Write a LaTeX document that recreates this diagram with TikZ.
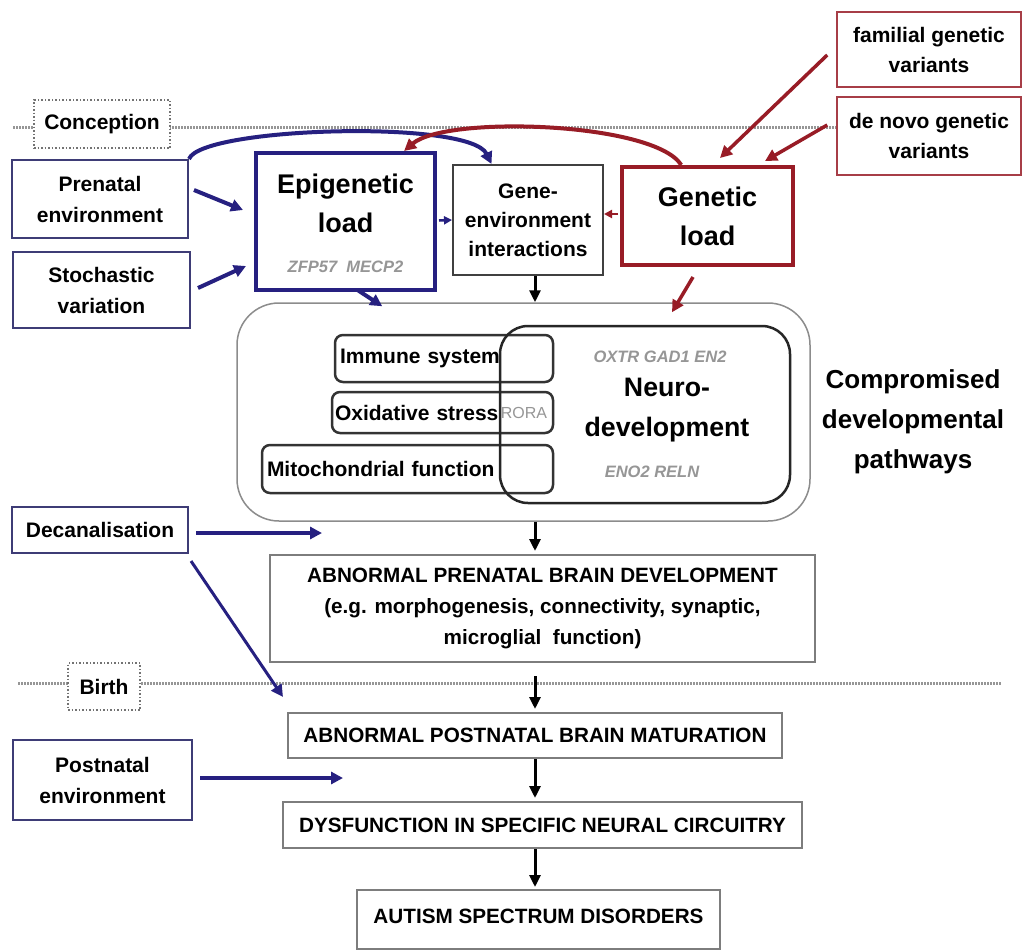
\documentclass[tikz,border=0pt]{standalone}
\usepackage{fontspec}
\setmainfont{Liberation Sans}
\usetikzlibrary{arrows.meta,calc}

\definecolor{navy}{RGB}{38,32,128}
\definecolor{slateblue}{RGB}{62,60,118}
\definecolor{darkred}{RGB}{152,28,38}
\definecolor{boxgray}{RGB}{125,125,125}
\definecolor{genegray}{RGB}{150,150,150}
\definecolor{dotgray}{RGB}{150,150,150}

\newcommand\szside{\fontsize{21}{31}\selectfont\bfseries}
\newcommand\szbig{\fontsize{27}{39}\selectfont\bfseries}
\newcommand\szflow{\fontsize{20.7}{31}\selectfont\bfseries}
\newcommand\szgene{\fontsize{16.5}{20}\selectfont\bfseries\itshape}

\begin{document}
\begin{tikzpicture}[x=1pt,y=-1pt,
  wh/.style 2 args={minimum width=#1, minimum height=#2},
  sidebox/.style={draw=slateblue, line width=2, fill=white, align=center, inner sep=0, font=\szside},
  epibox/.style={draw=navy, line width=4, fill=white, inner sep=0},
  genbox/.style={draw=darkred, line width=4, fill=white, inner sep=0, align=center, font=\szbig},
  gxebox/.style={draw=black!75, line width=2, fill=white, inner sep=0, align=center, font=\szside},
  varbox/.style={draw=darkred!85!white, line width=1.5, fill=white, inner sep=0, align=center, font=\szside},
  timebox/.style={draw=black!55, line width=1.5, dotted, fill=white, inner sep=0, font=\szside},
  flowbox/.style={draw=boxgray, line width=2, fill=white, inner sep=0, align=center, font=\szflow},
  pathbox/.style={draw=black!80, line width=2.5, rounded corners=8, inner xsep=5, inner ysep=0, align=left, font=\szside},
  gene/.style={text=genegray, font=\szgene, inner sep=0},
  timeline/.style={draw=dotgray, line width=3, dash pattern=on 1.5pt off 1.5pt},
  bluearrow/.style={draw=navy, line width=4, -{Triangle[length=12pt,width=12pt]}},
  redarrow/.style={draw=darkred, line width=3.5, -{Triangle[length=12pt,width=12pt]}},
  bluesmall/.style={draw=navy, line width=2.5, -{Triangle[length=8pt,width=8pt]}},
  redsmall/.style={draw=darkred, line width=2.5, -{Triangle[length=8pt,width=8pt]}},
  blackarrow/.style={draw=black, line width=3, -{Triangle[length=12pt,width=11pt]}}
]
\useasboundingbox (0,0) rectangle (1023,951);
\fill[white] (0,0) rectangle (1023,951);

% time lines
\coordinate (conL) at (13,127);
\coordinate (conR) at (1000,127);
\coordinate (birL) at (18,683);
\coordinate (birR) at (1002,683);
\draw[timeline] (conL) -- (conR);
\draw[timeline] (birL) -- (birR);
\node[timebox, wh={136}{48}] (conception) at (102,124) {Conception};
\node[timebox, wh={72}{47}] (birth) at (104,686.5) {Birth};

% environmental inputs
\node[sidebox, wh={176}{78}] (prenatal) at (100,199) {Prenatal\\environment};
\node[sidebox, wh={177}{76}, text depth=0pt] (stochastic) at (101.5,290) {Stochastic\\variation};
\node[sidebox, wh={176}{46}] (decan) at (100,530) {Decanalisation};
\node[sidebox, wh={179}{80}] (postnatal) at (102.5,780) {Postnatal\\environment};

% loads
\node[epibox, wh={179}{137}] (epigenetic) at (345.5,221.5) {};
\node[font=\fontsize{27}{39}\selectfont\bfseries, align=center, inner sep=0] (epilabel) at (345.5,203) {Epigenetic\\load};
\node[gene] (epigenes) at (345.5,267) {ZFP57\ \ MECP2};
\node[gxebox, wh={150}{110}, font=\fontsize{21}{29}\selectfont\bfseries] (geneenv) at (528,220) {Gene-\\environment\\interactions};
\node[genbox, wh={171}{98}] (genetic) at (707.5,216) {Genetic\\load};
\node[varbox, wh={184}{75}, font=\fontsize{21}{30}\selectfont\bfseries] (familial) at (929,49.5) {familial genetic\\variants};
\node[varbox, wh={184}{78}, font=\fontsize{21}{30}\selectfont\bfseries] (denovo) at (929,136) {de novo genetic\\variants};

% compromised developmental pathways
\node[draw=black!45, line width=1.5, rounded corners=42, wh={573}{218}, inner sep=0] (container) at (523.5,412) {};
\node[pathbox, wh={218}{47}, text width=208] (immune) at (444,358.5) {Immune system};
\node[pathbox, wh={221}{41}, inner xsep=3, text width=215] (oxidative) at (442.5,412.5) {Oxidative stress};
\node[pathbox, wh={291}{48}, text width=281] (mito) at (407.5,469) {Mitochondrial function};
\node[text=genegray, font=\fontsize{16}{18}\selectfont, inner sep=0] (rora) at (524,413) {RORA};
\node[draw=black!85, line width=2.5, rounded corners=28, wh={290}{177}, inner sep=0] (neuro) at (645,414.5) {};
\node[gene] (neurogenesA) at (660,357) {OXTR GAD1 EN2};
\node[font=\fontsize{26.7}{40}\selectfont\bfseries, align=center, inner sep=0] (neurolabel) at (667,410) {Neuro-\\development};
\node[gene] (neurogenesB) at (652,472) {ENO2 RELN};
\node[font=\fontsize{26}{40}\selectfont\bfseries, align=center, inner sep=0] (pathways) at (913,422) {Compromised\\developmental\\pathways};

% outcome chain
\node[flowbox, wh={545}{107}] (abprenatal) at (542.5,608.5) {ABNORMAL PRENATAL BRAIN DEVELOPMENT\\(e.g. morphogenesis, connectivity, synaptic,\\microglial\ \ function)};
\node[flowbox, wh={494}{45}] (abpostnatal) at (535,735.5) {ABNORMAL POSTNATAL BRAIN MATURATION};
\node[flowbox, wh={519}{46}] (dysfunction) at (542.5,825) {DYSFUNCTION IN SPECIFIC NEURAL CIRCUITRY};
\node[flowbox, wh={363}{59}] (autism) at (538.5,919.5) {\raisebox{6pt}{AUTISM SPECTRUM DISORDERS}};

% connectors
\coordinate (spine) at (535,0);
\draw[bluearrow] ($(prenatal.east)+(5,-9)$) -- ($(epigenetic.west)+(-11,-11.5)$);
\draw[bluearrow] ($(stochastic.east)+(7,-2)$) -- ($(epigenetic.west)+(-8,44.5)$);
\draw[bluearrow] (prenatal.north east) .. controls +(12,-32) and +(-22,-45) .. ($(geneenv.north west)!0.26!(geneenv.north east)$);
\draw[redarrow, line width=4] ($(genetic.north west)!0.35!(genetic.north east)$) .. controls +(-27,-43) and +(42,-36) .. ($(epigenetic.north west)!0.82!(epigenetic.north east)$);
\draw[bluesmall] ($(epigenetic.east)+(2,-1)$) -- (geneenv.west);
\draw[redsmall] ($(genetic.west)+(-2,-2)$) -- ($(geneenv.east)+(0,-6)$);
\draw[bluearrow] ($(epigenetic.south)+(12,-2)$) -- ($(container.north west)+(146,4)$);
\draw[blackarrow] (geneenv.south -| spine) -- (container.north -| spine);
\draw[redarrow] ($(genetic.south)+(-14.5,10)$) -- ($(container.north)+(148.5,10)$);
\draw[redarrow] ($(familial.west)+(-9,5.5)$) -- ($(genetic.north)+(12.5,-7)$);
\draw[redarrow] ($(denovo.west)+(-9,-11)$) -- ($(genetic.north east)+(-30,-4)$);

\coordinate (decanend) at (322,533);
\coordinate (decanbirth) at (283,697);
\coordinate (postend) at (343,778);
\draw[bluearrow] ($(decan.east)+(7,3)$) -- (decanend);
\draw[bluearrow, line width=3] ($(decan.south east)+(2,7)$) -- (decanbirth);
\draw[bluearrow] ($(postnatal.east)+(7,-2)$) -- (postend);

\draw[blackarrow] (container.south -| spine) -- ($(abprenatal.north -| spine)+(0,-3)$);
\draw[blackarrow] ($(abprenatal.south -| spine)+(0,13)$) -- ($(abpostnatal.north -| spine)+(0,-3)$);
\draw[blackarrow] (abpostnatal.south -| spine) -- ($(dysfunction.north -| spine)+(0,-3)$);
\draw[blackarrow] (dysfunction.south -| spine) -- ($(autism.north -| spine)+(0,-2)$);
\end{tikzpicture}
\end{document}
